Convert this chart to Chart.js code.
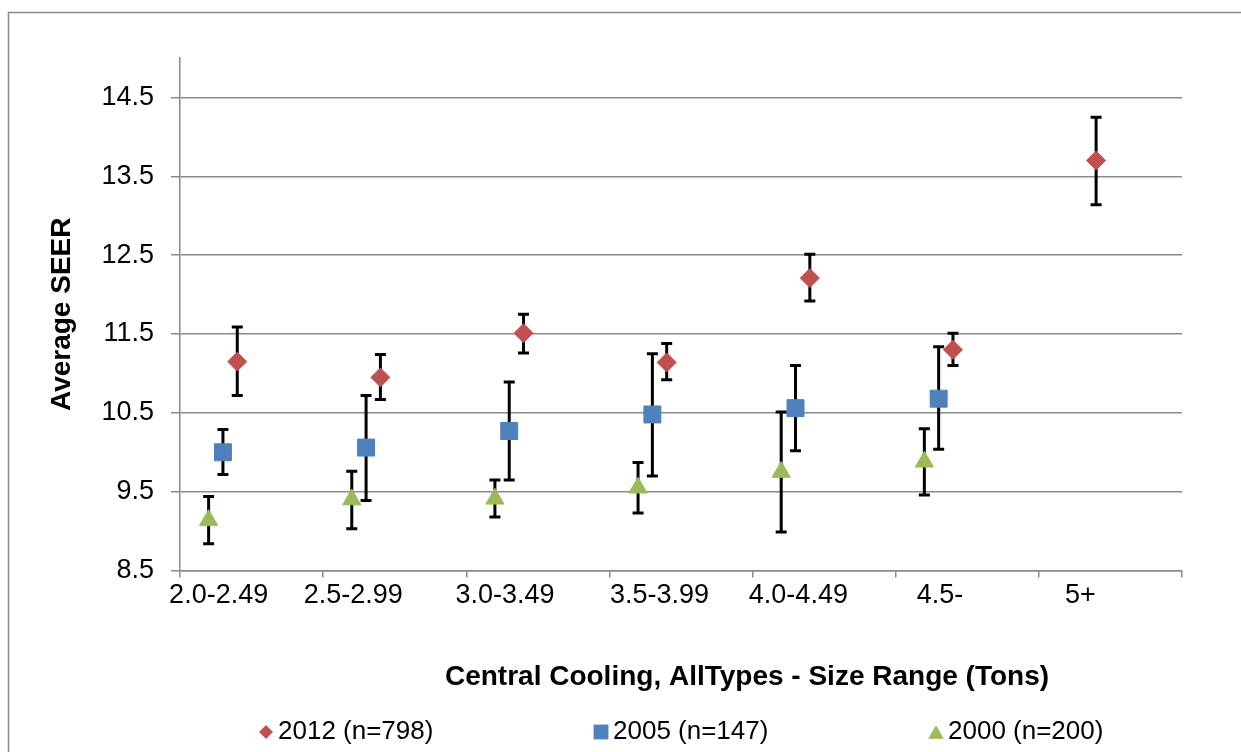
<!DOCTYPE html>
<html>
<head>
<meta charset="utf-8">
<title>Average SEER by size range</title>
<script src="https://cdn.jsdelivr.net/npm/chart.js@4.4.1/dist/chart.umd.min.js"></script>
<style>
  html, body { margin: 0; padding: 0; background: #fff; }
  #wrap { width: 1241px; height: 752px; }
</style>
</head>
<body>
<div id="wrap"><canvas id="seerChart" width="1241" height="752"></canvas></div>
<script>
const FONT = "'Liberation Sans', Arial, Helvetica, sans-serif";
const GRID = '#8a8a8a';

// size ranges (tons) and where their labels sit along the category axis
const categories = ['2.0-2.49', '2.5-2.99', '3.0-3.49', '3.5-3.99', '4.0-4.49', '4.5-', '5+'];
const labelPos = [0.27, 1.21, 2.27, 3.35, 4.32, 5.31, 6.29];
const yTicks = [8.5, 9.5, 10.5, 11.5, 12.5, 13.5, 14.5];

// average SEER with lower / upper error bar ends
const seer2012 = [11.15, 10.95, 11.51, 11.14, 12.21, 11.30, 13.70];
const low2012 = [10.72, 10.67, 11.26, 10.92, 11.92, 11.10, 13.14];
const high2012 = [11.59, 11.24, 11.75, 11.38, 12.51, 11.51, 14.25];

const seer2005 = [10.00, 10.06, 10.27, 10.48, 10.56, 10.68];
const low2005 = [9.72, 9.39, 9.65, 9.70, 10.02, 10.04];
const high2005 = [10.29, 10.72, 10.89, 11.25, 11.10, 11.34];

const seer2000 = [9.14, 9.40, 9.41, 9.55, 9.75, 9.88];
const low2000 = [8.84, 9.03, 9.18, 9.23, 8.99, 9.46];
const high2000 = [9.44, 9.76, 9.65, 9.87, 10.51, 10.30];

const series = [
  { name: '2012 (n=798)', mean: seer2012, low: low2012, high: high2012, shift: 0.4, color: '#C0504D', style: 'rectRot', radius: 9.5, keyRadius: 7 },
  { name: '2005 (n=147)', mean: seer2005, low: low2005, high: high2005, shift: 0.3, color: '#4F81BD', style: 'rect', radius: 12, keyRadius: 10.5 },
  { name: '2000 (n=200)', mean: seer2000, low: low2000, high: high2000, shift: 0.2, color: '#9BBB59', style: 'triangle', radius: 10.5, keyRadius: 9 }
];

const points = (vals, shift) => vals.map((v, i) => ({ x: i + shift, y: v }));

// each whisker is a two point segment, split from the next one by a gap
const whiskers = (low, high, shift) => low.flatMap((lo, i) => [
  { x: i + shift, y: lo },
  { x: i + shift, y: high[i] },
  { x: i + shift, y: null }
]);

const datasets = [];
series.forEach(s => {
  datasets.push({
    label: s.name,
    data: points(s.mean, s.shift),
    showLine: false,
    pointStyle: s.style,
    pointRadius: s.radius,
    pointHoverRadius: s.radius,
    pointBackgroundColor: s.color,
    pointBorderColor: s.color,
    pointBorderWidth: 1,
    order: 0
  });
  datasets.push({
    label: s.name + ' range',
    data: whiskers(s.low, s.high, s.shift),
    showLine: true,
    spanGaps: false,
    borderColor: '#000',
    borderWidth: 3,
    pointStyle: 'line',
    pointRadius: 5.5,
    pointHoverRadius: 5.5,
    pointBorderColor: '#000',
    pointBorderWidth: 3,
    order: 1
  });
});

// white page with the grey outline of the chart object
const framePlugin = {
  id: 'frame',
  beforeDraw(chart) {
    const { ctx, width, height } = chart;
    ctx.save();
    ctx.fillStyle = '#fff';
    ctx.fillRect(0, 0, width, height);
    ctx.strokeStyle = GRID;
    ctx.lineWidth = 1.5;
    ctx.strokeRect(8.5, 12.5, width + 20, height + 20);
    ctx.restore();
  }
};

// the axis caption sits a little right of the plot centre
const captionPlugin = {
  id: 'caption',
  afterLayout(chart) {
    const t = chart.titleBlock;
    if (t) {
      const mid = (chart.chartArea.left + chart.chartArea.right) / 2 + 66;
      t.left = 2 * mid - t.right;
      t.width = t.right - t.left;
    }
  }
};

// series key along the bottom, centred under the plot
const keyPlugin = {
  id: 'seriesKey',
  afterDraw(chart) {
    const { ctx, chartArea } = chart;
    const mid = (chartArea.left + chartArea.right) / 2;
    const y = 732;
    ctx.save();
    ctx.font = '26px ' + FONT;
    ctx.textBaseline = 'middle';
    ctx.textAlign = 'left';
    series.forEach((s, i) => {
      const mx = mid - 415 + i * 335;
      const my = s.style === 'triangle' ? y + s.keyRadius / 4 : y;
      ctx.fillStyle = s.color;
      Chart.helpers.drawPoint(ctx, { pointStyle: s.style, radius: s.keyRadius, borderWidth: 0, rotation: 0 }, mx, my);
      ctx.fillStyle = '#000';
      ctx.fillText(s.name, mx + 12, y);
    });
    ctx.restore();
  }
};

Chart.defaults.font.family = FONT;
Chart.defaults.color = '#000';

new Chart(document.getElementById('seerChart'), {
  type: 'scatter',
  data: { datasets },
  plugins: [framePlugin, captionPlugin, keyPlugin],
  options: {
    responsive: false,
    animation: false,
    events: [],
    layout: { padding: { left: 0, right: 59, top: 58, bottom: 58.4 } },
    scales: {
      x: {
        type: 'linear',
        position: 'bottom',
        weight: 0,
        min: 0,
        max: categories.length,
        afterBuildTicks: scale => {
          scale.ticks = categories.map((c, i) => ({ value: i })).concat({ value: categories.length });
        },
        afterFit: scale => { scale.height = 7; },
        ticks: { display: false },
        grid: { drawOnChartArea: false, drawTicks: true, tickLength: 7, color: GRID, lineWidth: 1.5 },
        border: { display: true, color: GRID, width: 1.5 }
      },
      xCat: {
        type: 'linear',
        axis: 'x',
        position: 'bottom',
        weight: 1,
        min: 0,
        max: categories.length,
        afterBuildTicks: scale => {
          scale.ticks = labelPos.map(v => ({ value: v }));
        },
        afterFit: scale => { scale.height = 33; },
        ticks: {
          autoSkip: false,
          maxRotation: 0,
          minRotation: 0,
          padding: 2,
          font: { size: 27 },
          color: '#000',
          callback: (v, i) => categories[i]
        },
        grid: { display: false, drawTicks: false },
        border: { display: false }
      },
      y: {
        type: 'linear',
        min: 8.5,
        max: 15,
        afterBuildTicks: scale => {
          scale.ticks = yTicks.map(v => ({ value: v }));
        },
        afterFit: scale => { scale.width = 180; },
        ticks: {
          padding: 17,
          font: { size: 27 },
          color: '#000',
          callback: v => v.toFixed(1)
        },
        grid: { color: GRID, lineWidth: 1.5, tickLength: 9 },
        border: { color: GRID, width: 1.5 },
        title: {
          display: true,
          text: 'Average SEER',
          color: '#000',
          font: { size: 28, weight: 'bold' },
          padding: { top: 45.5, bottom: 0 }
        }
      }
    },
    plugins: {
      legend: { display: false },
      tooltip: { enabled: false },
      title: {
        display: true,
        position: 'bottom',
        weight: 500,
        text: 'Central Cooling, AllTypes - Size Range (Tons)',
        color: '#000',
        font: { size: 28, weight: 'bold' },
        padding: { top: 49.4, bottom: 0 }
      }
    }
  }
});
</script>
</body>
</html>
